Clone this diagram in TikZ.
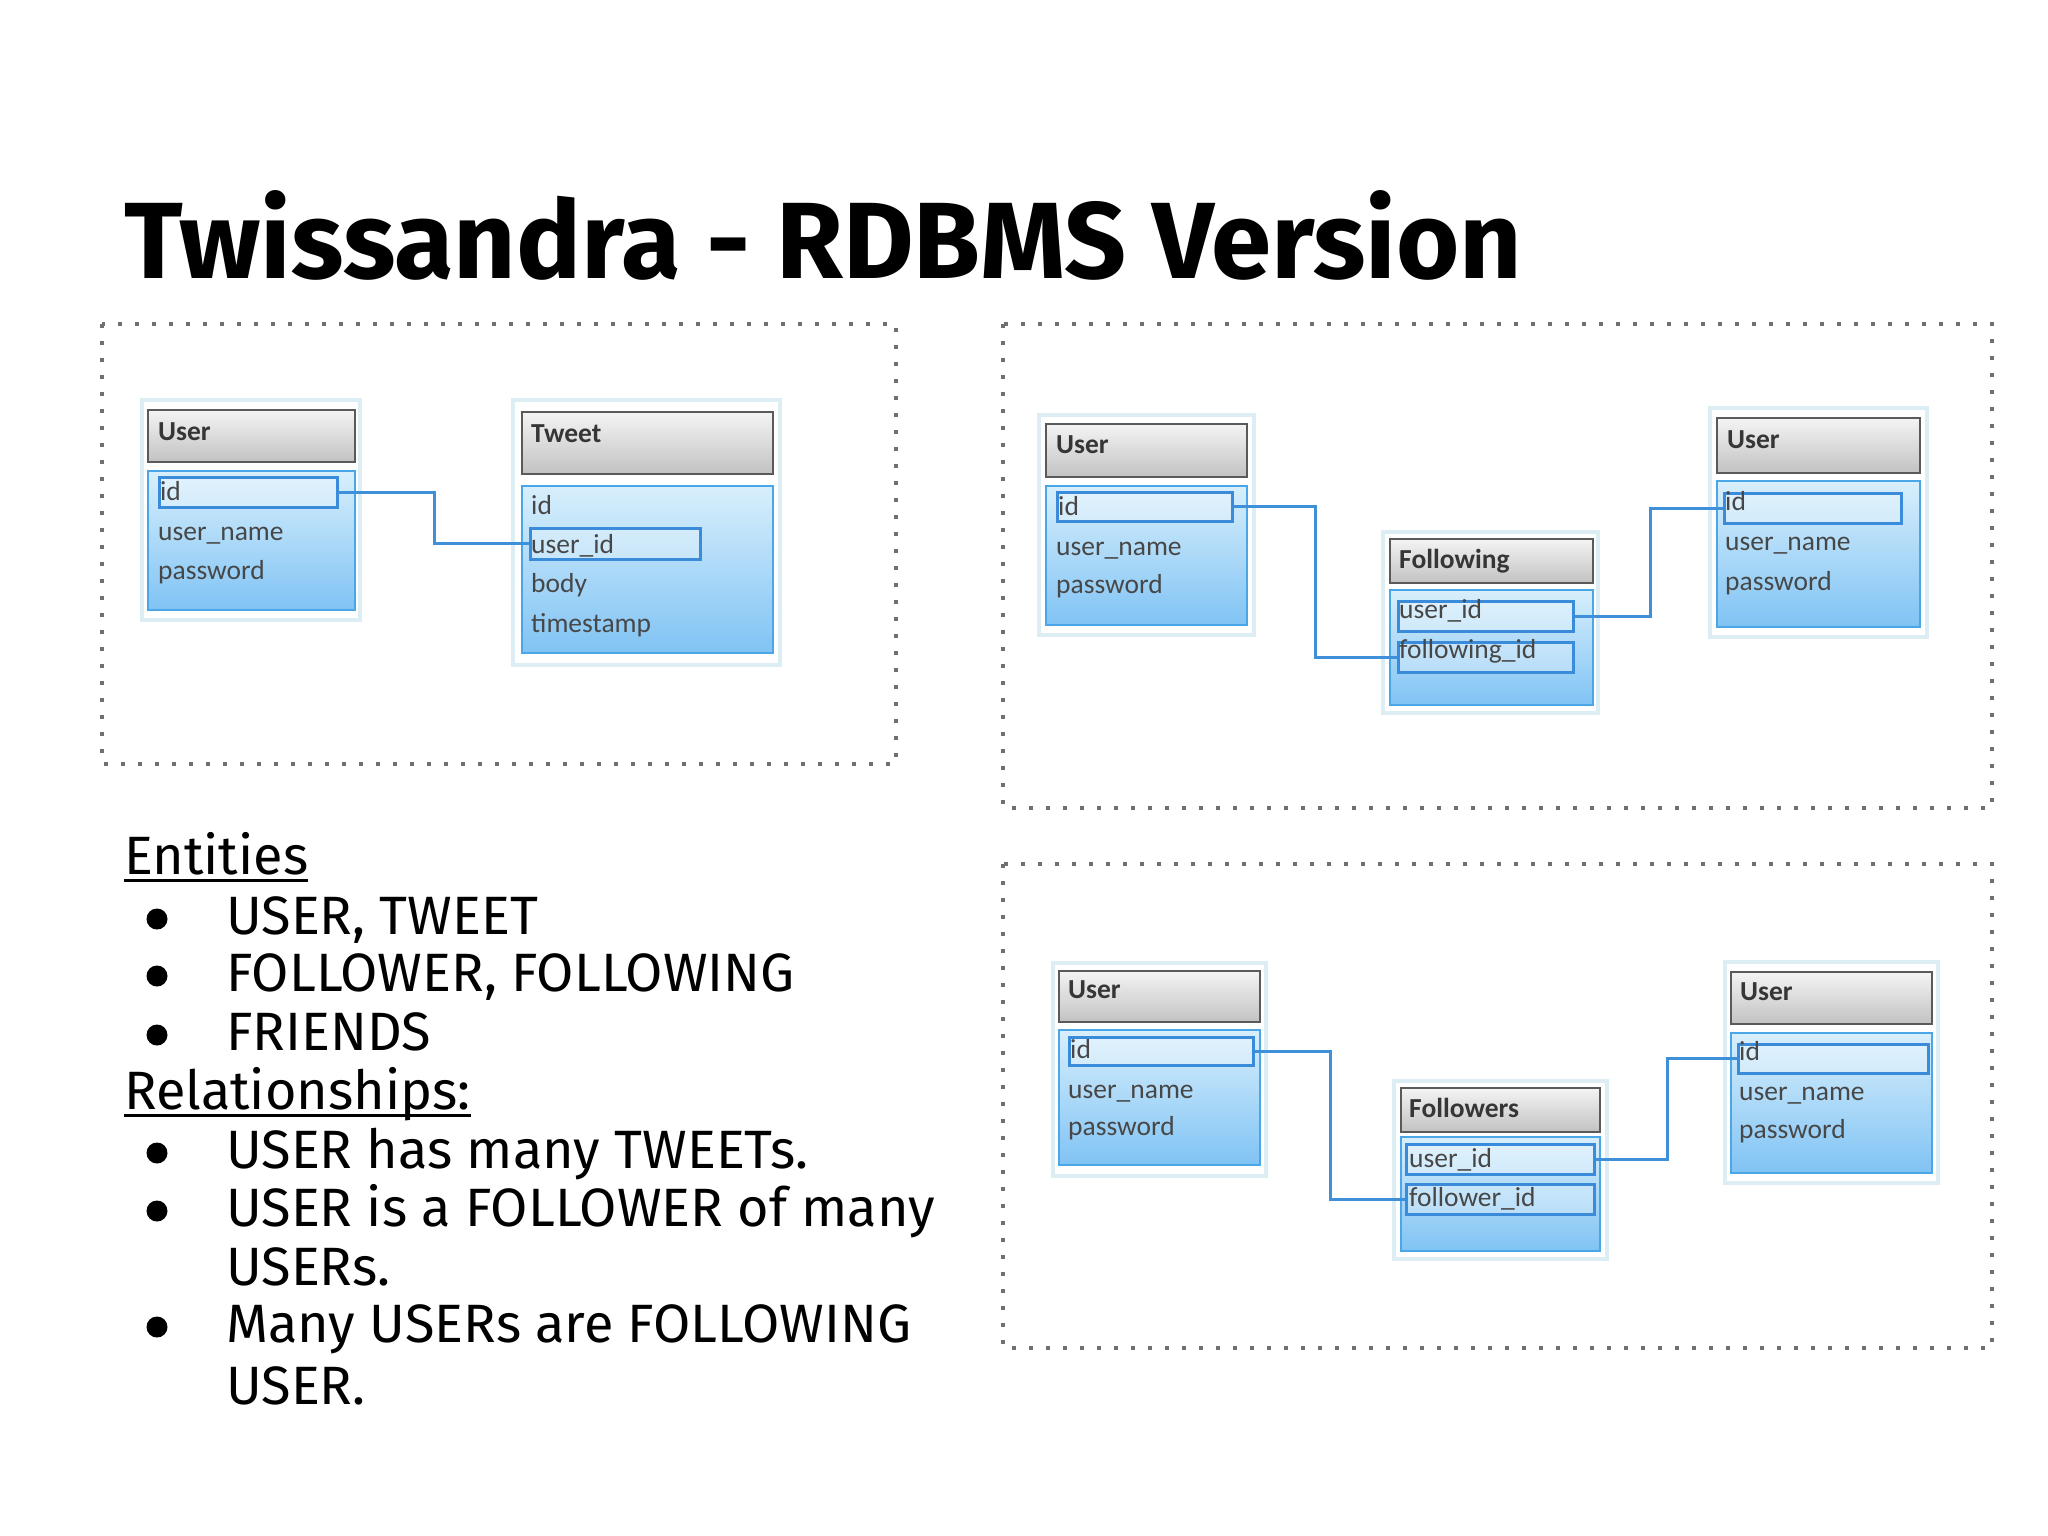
\documentclass[tikz,border=0pt]{standalone}
\usepackage{fontspec}
\setmainfont{Fira Sans}
\newfontfamily\tabfont{Carlito}
\usetikzlibrary{shadings}
\definecolor{framegray}{HTML}{707070}
\definecolor{glowc}{HTML}{DCEDF3}
\definecolor{hdrtop}{HTML}{F4F4F4}
\definecolor{hdrbot}{HTML}{C2C2C2}
\definecolor{hdrline}{HTML}{5A5A5A}
\definecolor{bodytop}{HTML}{D8EFFC}
\definecolor{bodybot}{HTML}{80C3F4}
\definecolor{bodyline}{HTML}{4BA6E8}
\definecolor{keyline}{HTML}{3A8CDA}
\definecolor{connc}{HTML}{3E90D8}
\definecolor{tabtext}{HTML}{474747}
\definecolor{tabtitle}{HTML}{363636}
\tikzset{
  frame/.style={draw=framegray, line width=4pt, dash pattern=on 4pt off 13pt},
  glow/.style={fill=white, draw=glowc, line width=4pt},
  hdr/.style={top color=hdrtop, bottom color=hdrbot, draw=hdrline, line width=2.5pt},
  tbody/.style={top color=bodytop, bottom color=bodybot, draw=bodyline, line width=2.5pt},
  keybox/.style={draw=keyline, line width=2.5pt, fill=white, fill opacity=0.3, draw opacity=1, anchor=north west, inner sep=0pt},
  conn/.style={draw=connc, line width=3pt},
  ttl/.style={anchor=base west, inner sep=0pt, text=tabtitle, font=\tabfont\fontsize{27.5}{32}\selectfont\bfseries},
  fld/.style={anchor=base west, inner sep=0pt, text=tabtext, font=\tabfont\fontsize{27.5}{32}\selectfont},
  txt/.style={anchor=base west, inner sep=0pt, font=\fontsize{54}{64}\selectfont},
  bul/.style={fill=black},
}
\begin{document}
\begin{tikzpicture}[x=1pt,y=-1pt]
\useasboundingbox[fill=white] (0,0) rectangle (2048,1536);

% title
\node[anchor=base west, inner sep=0pt, font=\fontsize{108.5}{122}\selectfont\bfseries] (title) at (124,278) {Twissandra - RDBMS Version};

% dotted frames
\draw[frame] (102,324) rectangle (896,764);
\draw[frame] (1003,324) rectangle (1992,808);
\draw[frame] (1003,864) rectangle (1992,1348);

% ---------- frame 1 : User -- Tweet ----------
\path[glow] (142,400) rectangle (360,620);
\path[hdr] (148,410) rectangle (355,462);
\path[tbody] (148,471) rectangle (355,610);
\node[keybox, minimum width=178pt, minimum height=30pt] (u1id) at (158,476) {};

\path[glow] (513,400) rectangle (780,665);
\path[hdr] (522,412) rectangle (773,474);
\path[tbody] (522,486) rectangle (773,653);
\node[keybox, minimum width=170pt, minimum height=31pt] (t1uid) at (529,527) {};

\draw[conn] (u1id.east) -- ++(96,0) |- (t1uid.west);

\node[ttl] (u1t) at (158,440) {User};
\node[fld] (u1f1) at (160,500) {id};
\node[fld] (u1f2) at (158,540) {user\_name};
\node[fld] (u1f3) at (158,579) {password};

\node[ttl] (t1t) at (531,442) {Tweet};
\node[fld] (t1f1) at (531,514) {id};
\node[fld] (t1f2) at (531,553) {user\_id};
\node[fld] (t1f3) at (531,592) {body};
\node[fld] (t1f4) at (531,632) {timestamp};

% ---------- frame 2 : User -- Following -- User ----------
\path[glow] (1039,415) rectangle (1254,635);
\path[hdr] (1046,424) rectangle (1247,477);
\path[tbody] (1046,486) rectangle (1247,625);
\node[keybox, minimum width=175pt, minimum height=29pt] (u2id) at (1056,491) {};

\path[glow] (1383,532) rectangle (1598,713);
\path[hdr] (1390,539) rectangle (1593,583);
\path[tbody] (1390,590) rectangle (1593,705);
\node[keybox, minimum width=175pt, minimum height=30pt] (fuid) at (1397,600) {};
\node[keybox, minimum width=175pt, minimum height=30pt] (ffid) at (1397,641) {};

\path[glow] (1710,408) rectangle (1927,637);
\path[hdr] (1717,418) rectangle (1920,473);
\path[tbody] (1717,481) rectangle (1920,627);
\node[keybox, minimum width=177pt, minimum height=30pt] (u3id) at (1723,492) {};

\draw[conn] (u2id.east) -- ++(82,0) |- (ffid.west);
\draw[conn] (fuid.east) -- ++(76,0) |- (u3id.west);

\node[ttl] (u2t) at (1056,453) {User};
\node[fld] (u2f1) at (1058,515) {id};
\node[fld] (u2f2) at (1056,555) {user\_name};
\node[fld] (u2f3) at (1056,593) {password};

\node[ttl] (ft) at (1399,568) {Following};
\node[fld] (ff1) at (1399,618) {user\_id};
\node[fld] (ff2) at (1399,658) {following\_id};

\node[ttl] (u3t) at (1727,448) {User};
\node[fld] (u3f1) at (1725,510) {id};
\node[fld] (u3f2) at (1725,550) {user\_name};
\node[fld] (u3f3) at (1725,590) {password};

% ---------- frame 3 : User -- Followers -- User ----------
\path[glow] (1053,963) rectangle (1266,1176);
\path[hdr] (1059,971) rectangle (1260,1022);
\path[tbody] (1059,1030) rectangle (1260,1165);
\node[keybox, minimum width=184pt, minimum height=28pt] (u4id) at (1068,1036) {};

\path[glow] (1394,1081) rectangle (1607,1259);
\path[hdr] (1401,1088) rectangle (1600,1132);
\path[tbody] (1401,1137) rectangle (1600,1251);
\node[keybox, minimum width=188pt, minimum height=30pt] (fouid) at (1405,1143) {};
\node[keybox, minimum width=188pt, minimum height=30pt] (fofid) at (1405,1183) {};

\path[glow] (1725,962) rectangle (1938,1183);
\path[hdr] (1731,972) rectangle (1932,1024);
\path[tbody] (1731,1033) rectangle (1932,1173);
\node[keybox, minimum width=190pt, minimum height=29pt] (u5id) at (1737,1043) {};

\draw[conn] (u4id.east) -- ++(76,0) |- (fofid.west);
\draw[conn] (fouid.east) -- ++(72,0) |- (u5id.west);

\node[ttl] (u4t) at (1068,998) {User};
\node[fld] (u4f1) at (1070,1058) {id};
\node[fld] (u4f2) at (1068,1098) {user\_name};
\node[fld] (u4f3) at (1068,1135) {password};

\node[ttl] (fot) at (1409,1117) {Followers};
\node[fld] (fo1) at (1409,1167) {user\_id};
\node[fld] (fo2) at (1409,1206) {follower\_id};

\node[ttl] (u5t) at (1740,1000) {User};
\node[fld] (u5f1) at (1739,1060) {id};
\node[fld] (u5f2) at (1739,1100) {user\_name};
\node[fld] (u5f3) at (1739,1138) {password};

% ---------- text list ----------
\node[txt] (ent) at (124,874) {Entities};
\draw[line width=3pt] ([yshift=-6pt]ent.base west) -- ([yshift=-6pt]ent.base east);
\node[txt] (e1) at (226,934) {USER, TWEET};
\node[txt] (e2) at (226,991) {FOLLOWER, FOLLOWING};
\node[txt] (e3) at (226,1050) {FRIENDS};
\node[txt] (rel) at (124,1109) {Relationships:};
\draw[line width=3pt] ([yshift=-6pt]rel.base west) -- ([yshift=-6pt]rel.base east);
\node[txt] (r1) at (226,1168) {USER has many TWEETs.};
\node[txt] (r2) at (226,1226) {USER is a FOLLOWER of many};
\node[txt] (r2b) at (226,1285) {USERs.};
\node[txt] (r3) at (226,1342) {Many USERs are FOLLOWING};
\node[txt] (r3b) at (226,1404) {USER.};

\fill[bul] (157,919) circle[radius=10.5pt];
\fill[bul] (157,976) circle[radius=10.5pt];
\fill[bul] (157,1035) circle[radius=10.5pt];
\fill[bul] (157,1153) circle[radius=10.5pt];
\fill[bul] (157,1211) circle[radius=10.5pt];
\fill[bul] (157,1327) circle[radius=10.5pt];
\end{tikzpicture}
\end{document}
